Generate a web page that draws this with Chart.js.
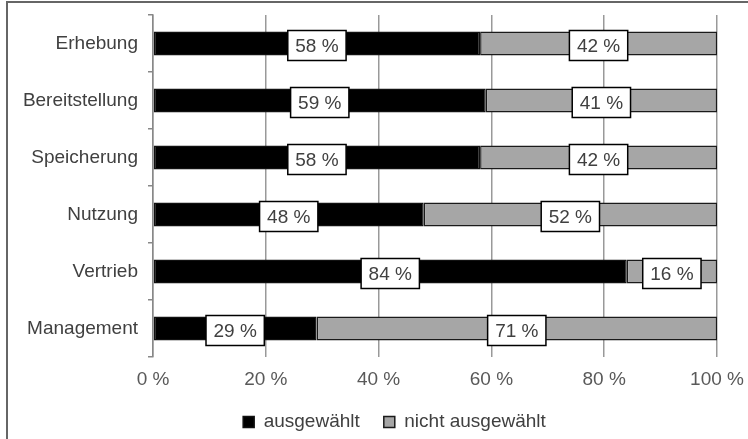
<!DOCTYPE html>
<html>
<head>
<meta charset="utf-8">
<script src="https://cdn.jsdelivr.net/npm/chart.js@4"></script>
<style>
  html, body { margin: 0; padding: 0; background: #fff; }
  canvas { display: block; }
</style>
</head>
<body>
<canvas id="chart" width="748" height="439"></canvas>
<script>
// Phases of data handling
const categories = ['Erhebung', 'Bereitstellung', 'Speicherung', 'Nutzung', 'Vertrieb', 'Management'];
// Share of respondents (%)
const selected = [58, 59, 58, 48, 84, 29];
const notSelected = [42, 41, 42, 52, 16, 71];
const seriesNames = ['ausgewählt', 'nicht ausgewählt'];
const xTicks = [0, 20, 40, 60, 80, 100];

const FONT = "'Liberation Sans', Arial, sans-serif";
const TEXT = '#404040';

// White background and the thin frame along the top and left edge
const framePlugin = {
  id: 'frame',
  beforeDraw(chart) {
    const ctx = chart.ctx;
    ctx.save();
    ctx.fillStyle = '#fff';
    ctx.fillRect(0, 0, chart.width, chart.height);
    ctx.strokeStyle = '#666';
    ctx.lineWidth = 2;
    ctx.beginPath();
    ctx.moveTo(7, chart.height + 5);
    ctx.lineTo(7, 2);
    ctx.lineTo(chart.width + 5, 2);
    ctx.stroke();
    ctx.restore();
  }
};

// Centre the legend row under the bars rather than under the whole canvas
const legendSpan = {
  id: 'legendSpan',
  afterLayout(chart) {
    if (chart.legend) {
      chart.legend.left = 72;
      chart.legend.right = chart.chartArea.right;
    }
  }
};

// Boxed percentage label in the middle of every bar segment
const segmentLabels = {
  id: 'segmentLabels',
  afterDatasetsDraw(chart) {
    const ctx = chart.ctx;
    ctx.save();
    ctx.font = '19px ' + FONT;
    ctx.textAlign = 'center';
    ctx.textBaseline = 'middle';
    chart.data.datasets.forEach((ds, di) => {
      const meta = chart.getDatasetMeta(di);
      meta.data.forEach((bar, i) => {
        const v = ds.data[i];
        const text = v + ' %';
        const cx = (bar.x + bar.base) / 2;
        const cy = bar.y + 2;
        const w = ctx.measureText(text).width + 15;
        const h = 30;
        ctx.fillStyle = '#fff';
        ctx.fillRect(cx - w / 2, cy - h / 2, w, h);
        ctx.strokeStyle = '#000';
        ctx.lineWidth = 1.5;
        ctx.strokeRect(cx - w / 2, cy - h / 2, w, h);
        ctx.fillStyle = TEXT;
        ctx.fillText(text, cx, cy + 1);
      });
    });
    ctx.restore();
  }
};

new Chart(document.getElementById('chart'), {
  type: 'bar',
  data: {
    labels: categories,
    datasets: [
      {
        label: seriesNames[0],
        data: selected,
        backgroundColor: '#000000',
        borderColor: '#111111',
        borderWidth: 1.5,
        borderSkipped: false,
        categoryPercentage: 1,
        barPercentage: 0.42
      },
      {
        label: seriesNames[1],
        data: notSelected,
        backgroundColor: '#a6a6a6',
        borderColor: '#1a1a1a',
        borderWidth: 1.5,
        borderSkipped: false,
        categoryPercentage: 1,
        barPercentage: 0.42
      }
    ]
  },
  options: {
    indexAxis: 'y',
    responsive: false,
    animation: false,
    devicePixelRatio: 1,
    layout: { padding: { left: 10, right: 31, top: 15, bottom: -2.5 } },
    scales: {
      x: {
        stacked: true,
        min: 0,
        max: 100,
        afterBuildTicks(scale) { scale.ticks = xTicks.map(v => ({ value: v })); },
        afterFit(scale) {
          scale.height = 31.5;
          scale.paddingLeft = 0;
          scale.paddingRight = 0;
        },
        grid: { color: '#999', lineWidth: 1.5, drawTicks: false },
        border: { display: false },
        ticks: {
          padding: 11,
          color: '#595959',
          font: { family: FONT, size: 19 },
          callback: v => v + ' %'
        }
      },
      y: {
        stacked: true,
        afterFit(scale) {
          scale.width = 143;
          scale.paddingTop = 0;
          scale.paddingBottom = 0;
        },
        grid: {
          offset: true,
          drawOnChartArea: false,
          drawTicks: true,
          tickLength: 5,
          color: '#888',
          lineWidth: 1.5
        },
        border: { display: true, color: '#888', width: 1.5 },
        ticks: {
          padding: 10,
          color: TEXT,
          font: { family: FONT, size: 19 }
        }
      }
    },
    plugins: {
      legend: {
        position: 'bottom',
        labels: {
          boxWidth: 11,
          boxHeight: 11,
          padding: 24,
          color: TEXT,
          font: { family: FONT, size: 19 }
        }
      },
      tooltip: { enabled: false }
    }
  },
  plugins: [framePlugin, legendSpan, segmentLabels]
});
</script>
</body>
</html>
